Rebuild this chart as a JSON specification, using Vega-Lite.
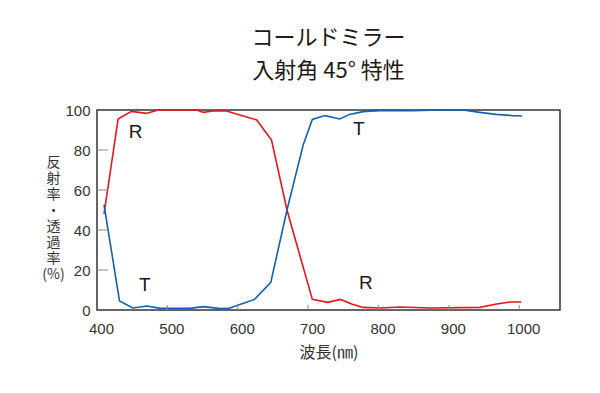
{
  "$schema": "https://vega.github.io/schema/vega-lite/v6.json",
  "width": 463,
  "height": 200,
  "autosize": {"type": "none"},
  "padding": {"left": 97, "top": 110, "right": 40, "bottom": 83},
  "background": "white",
  "title": {
    "text": ["コールドミラー", "入射角 45° 特性"],
    "font": "Noto Sans CJK JP",
    "fontSize": 22,
    "fontWeight": "normal",
    "color": "#231815",
    "lineHeight": 33,
    "offset": 20,
    "anchor": "middle"
  },
  "datasets": {
    "curves": [
      {"wl": 410, "v": 48, "s": "R"},
      {"wl": 430, "v": 95.5, "s": "R"},
      {"wl": 449, "v": 99.3, "s": "R"},
      {"wl": 470, "v": 98.3, "s": "R"},
      {"wl": 487, "v": 100, "s": "R"},
      {"wl": 542, "v": 100, "s": "R"},
      {"wl": 551, "v": 98.8, "s": "R"},
      {"wl": 565, "v": 99.5, "s": "R"},
      {"wl": 584, "v": 99.5, "s": "R"},
      {"wl": 603, "v": 97.5, "s": "R"},
      {"wl": 627, "v": 95, "s": "R"},
      {"wl": 648, "v": 85, "s": "R"},
      {"wl": 670, "v": 50, "s": "R"},
      {"wl": 706, "v": 5.3, "s": "R"},
      {"wl": 728, "v": 3.8, "s": "R"},
      {"wl": 746, "v": 5.3, "s": "R"},
      {"wl": 762, "v": 3, "s": "R"},
      {"wl": 778, "v": 1.3, "s": "R"},
      {"wl": 802, "v": 1, "s": "R"},
      {"wl": 831, "v": 1.5, "s": "R"},
      {"wl": 873, "v": 1, "s": "R"},
      {"wl": 944, "v": 1.3, "s": "R"},
      {"wl": 968, "v": 3, "s": "R"},
      {"wl": 987, "v": 4, "s": "R"},
      {"wl": 1003, "v": 4, "s": "R"},
      {"wl": 410, "v": 52.5, "s": "T"},
      {"wl": 432, "v": 4.5, "s": "T"},
      {"wl": 451, "v": 1, "s": "T"},
      {"wl": 471, "v": 2, "s": "T"},
      {"wl": 490, "v": 0.8, "s": "T"},
      {"wl": 532, "v": 0.8, "s": "T"},
      {"wl": 551, "v": 1.7, "s": "T"},
      {"wl": 575, "v": 0.7, "s": "T"},
      {"wl": 587, "v": 0.8, "s": "T"},
      {"wl": 603, "v": 2.8, "s": "T"},
      {"wl": 624, "v": 5.3, "s": "T"},
      {"wl": 647, "v": 13.8, "s": "T"},
      {"wl": 670, "v": 50, "s": "T"},
      {"wl": 693, "v": 82.5, "s": "T"},
      {"wl": 706, "v": 95.3, "s": "T"},
      {"wl": 724, "v": 97.2, "s": "T"},
      {"wl": 745, "v": 95.5, "s": "T"},
      {"wl": 759, "v": 97.8, "s": "T"},
      {"wl": 778, "v": 99.2, "s": "T"},
      {"wl": 801, "v": 99.7, "s": "T"},
      {"wl": 849, "v": 99.7, "s": "T"},
      {"wl": 887, "v": 100, "s": "T"},
      {"wl": 920, "v": 100, "s": "T"},
      {"wl": 944, "v": 98.8, "s": "T"},
      {"wl": 967, "v": 97.8, "s": "T"},
      {"wl": 991, "v": 97.2, "s": "T"},
      {"wl": 1004, "v": 97, "s": "T"}
    ],
    "labels": [
      {"wl": 455, "v": 89, "t": "R"},
      {"wl": 468, "v": 12.5, "t": "T"},
      {"wl": 772, "v": 90.3, "t": "T"},
      {"wl": 782, "v": 13.7, "t": "R"}
    ],
    "xticks": [{"wl": 500}, {"wl": 600}, {"wl": 700}, {"wl": 800}, {"wl": 900}, {"wl": 1000}],
    "yticks": [{"v": 20}, {"v": 40}, {"v": 60}, {"v": 80}]
  },
  "config": {
    "view": {"stroke": "#333333", "strokeWidth": 1.5},
    "axis": {
      "grid": false,
      "domain": false,
      "ticks": false,
      "labelFont": "Liberation Sans",
      "labelFontSize": 15,
      "labelColor": "#333333",
      "labelFlush": false,
      "labelOverlap": false,
      "titleFont": "Noto Sans CJK JP",
      "titleFontWeight": "normal",
      "titleColor": "#333333"
    }
  },
  "layer": [
    {
      "data": {"name": "curves"},
      "mark": {"type": "line", "strokeWidth": 1.6, "interpolate": "linear"},
      "encoding": {
        "x": {
          "field": "wl", "type": "quantitative",
          "scale": {"domain": [400, 1058], "nice": false, "zero": false},
          "axis": {
            "values": [400, 500, 600, 700, 800, 900, 1000],
            "tickCount": 20,
            "format": "d",
            "labelPadding": 11,
            "labelOffset": 4,
            "title": "波長(㎚)",
            "titleFontSize": 16,
            "titlePadding": 8
          }
        },
        "y": {
          "field": "v", "type": "quantitative",
          "scale": {"domain": [0, 100], "nice": false},
          "axis": {
            "values": [0, 20, 40, 60, 80, 100],
            "tickCount": 20,
            "labelPadding": 7,
            "title": ["反", "射", "率", "・", "透", "過", "率", "(%)"],
            "titleAngle": 0,
            "titleFontSize": 14,
            "titleLineHeight": 16,
            "titleAlign": "center",
            "titleBaseline": "top",
            "titleX": -44,
            "titleY": 45
          }
        },
        "color": {
          "field": "s", "type": "nominal",
          "scale": {"domain": ["R", "T"], "range": ["#e8141e", "#1560b0"]},
          "legend": null
        }
      }
    },
    {
      "data": {"name": "xticks"},
      "mark": {"type": "rule", "color": "#888888", "strokeWidth": 1},
      "encoding": {
        "x": {"field": "wl", "type": "quantitative"},
        "y": {"datum": 0},
        "y2": {"datum": 2.5}
      }
    },
    {
      "data": {"name": "yticks"},
      "mark": {"type": "rule", "color": "#888888", "strokeWidth": 1},
      "encoding": {
        "y": {"field": "v", "type": "quantitative"},
        "x": {"datum": 400},
        "x2": {"datum": 415.5}
      }
    },
    {
      "data": {"name": "labels"},
      "mark": {"type": "text", "font": "Liberation Sans", "fontSize": 19, "color": "#231815"},
      "encoding": {
        "x": {"field": "wl", "type": "quantitative"},
        "y": {"field": "v", "type": "quantitative"},
        "text": {"field": "t"}
      }
    }
  ]
}
